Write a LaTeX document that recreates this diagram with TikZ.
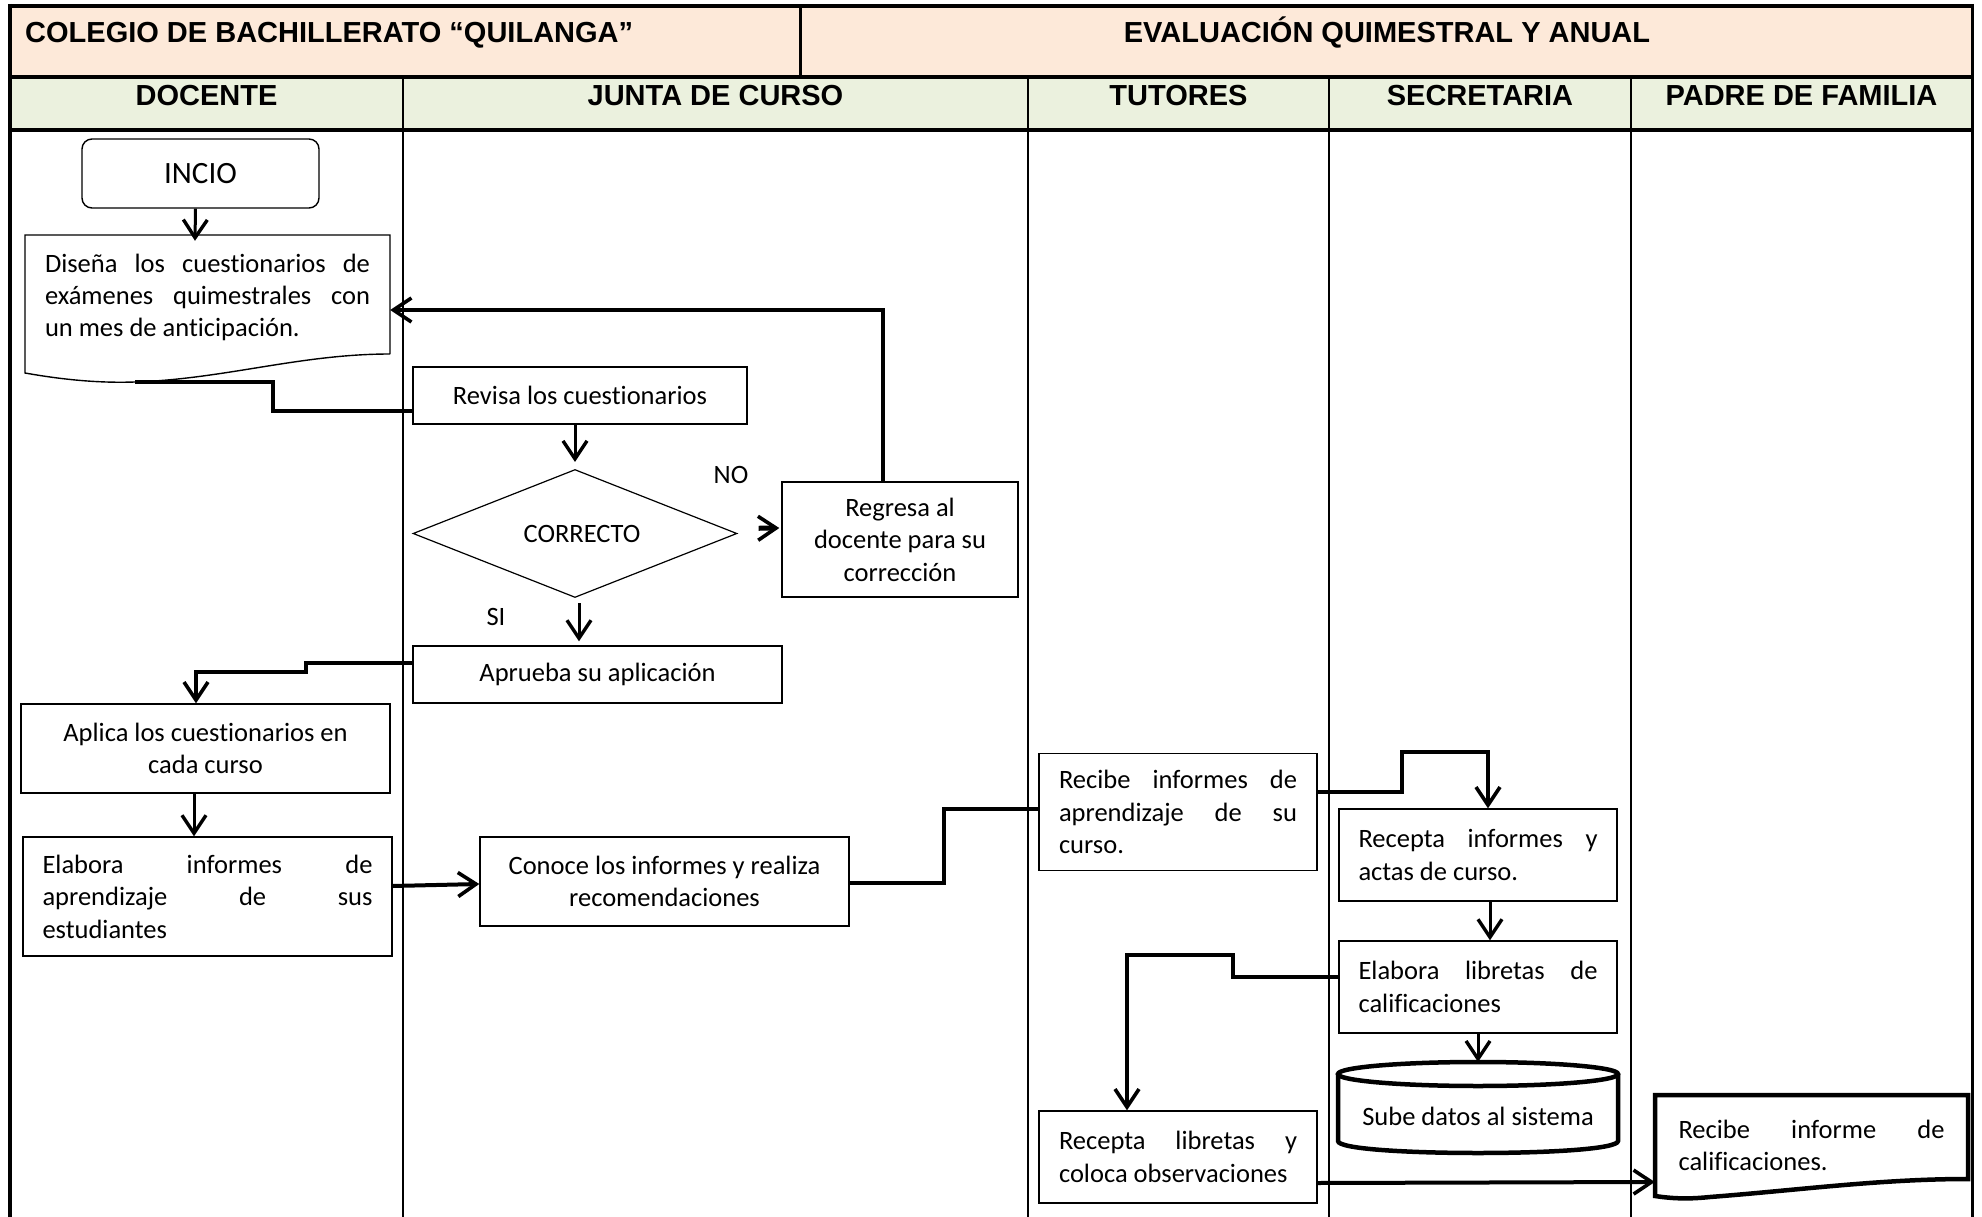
\documentclass[tikz,border=0pt]{standalone}
\usepackage{fontspec}
\usepackage{tikz}
\usetikzlibrary{shapes.geometric,arrows.meta,calc}
\setmainfont{Carlito}[Ligatures=NoCommon]
\newfontfamily\headfont{Liberation Sans}
\definecolor{peach}{RGB}{253,233,217}
\definecolor{sage}{RGB}{235,241,222}
\tikzstyle{box}=[rectangle,draw,line width=1.4pt,inner sep=0pt,font=\fontsize{26.5}{32.4}\selectfont]

\begin{document}
\begin{tikzpicture}[x=1pt,y=-1pt]

\tikzstyle{head}=[inner sep=0pt,anchor=base,font=\headfont\fontsize{29}{34}\selectfont\bfseries]
\tikzstyle{cbox}=[box,align=center]
\tikzstyle{jbox}=[box,align=justify]
\tikzstyle{docbox}=[rectangle,inner sep=0pt,align=justify,font=\fontsize{26.5}{32.4}\selectfont]
\tikzstyle{answer}=[inner sep=0pt,font=\fontsize{26.5}{32.4}\selectfont]
\tikzstyle{arrow}=[-{Straight Barb[length=18pt,width=24pt,line width=3.4pt]},line width=3pt]
\tikzstyle{thickarrow}=[-{Straight Barb[length=18pt,width=24pt,line width=3.6pt]},line width=4pt]
\tikzstyle{thickline}=[line width=4pt]

\useasboundingbox (0,0) rectangle (1982,1217);

% cabecera
\fill[peach] (10,6) rectangle (1972,77);
\fill[sage] (10,77) rectangle (1972,130);
\foreach \x in {403,1028,1329,1631}
  \draw[line width=1.6pt] (\x,77) -- (\x,1230);
\draw[line width=3pt] (800,6) -- (800,77);
\foreach \y in {6,77,130}
  \draw[line width=4pt] (8,\y) -- (1974,\y);
\draw[line width=4pt] (10,4) -- (10,1230);
\draw[line width=3pt] (1972,4) -- (1972,1230);

\node (colegio) [head,anchor=base west] at (25,43) {COLEGIO DE BACHILLERATO “QUILANGA”};
\node (evaluacion) [head] at (1387,43) {EVALUACIÓN QUIMESTRAL Y ANUAL};
\node (hdocente) [head] at (206.5,106) {DOCENTE};
\node (hjunta) [head] at (715.5,106) {JUNTA DE CURSO};
\node (htutores) [head] at (1178.5,106) {TUTORES};
\node (hsecretaria) [head] at (1480,106) {SECRETARIA};
\node (hpadre) [head] at (1801.5,106) {PADRE DE FAMILIA};

% docente
\node (incio) [box,rounded corners=10pt,minimum width=237pt,minimum height=69pt,
  font=\fontsize{31}{37}\selectfont] at (200.5,173.5) {INCIO};
\node (disena) [docbox,text width=325pt,minimum width=365pt,minimum height=119pt]
  at (207.5,297.5) {Diseña los cuestionarios de\linebreak exámenes quimestrales con\linebreak un mes de anticipación.};
\draw[line width=1.4pt] (390,354) -- (390,235) -- (25,235) -- (25,373)
  .. controls (70,381) and (105,383) .. (135,382)
  .. controls (225,379) and (300,354) .. (390,354);
\coordinate (dbot) at (135,382);
\node (aplica) [cbox,minimum width=369pt,minimum height=89pt] at (205.5,748.5)
  {Aplica los cuestionarios en\\ cada curso};
\node (elabora) [jbox,text width=330pt,minimum width=369pt,minimum height=119pt]
  at (207.5,896.5) {Elabora informes de\linebreak aprendizaje de sus\linebreak estudiantes};

% junta de curso
\node (revisa) [cbox,minimum width=334pt,minimum height=57pt] at (580,395.5) {Revisa los cuestionarios};
\node (correcto) [diamond,aspect=2.5,draw,line width=1.2pt,inner sep=0pt,minimum width=324pt,minimum height=128pt,
  font=\fontsize{26.5}{32.4}\selectfont] at (575,533.5) {\hspace*{14pt}CORRECTO};
\node (regresa) [cbox,minimum width=236pt,minimum height=115pt] at (900,539.5)
  {Regresa al\\ docente para su\\ corrección};
\node (no) [answer] at (731,475) {NO};
\node (si) [answer] at (496,617) {SI};
\node (aprueba) [cbox,minimum width=369pt,minimum height=57pt] at (597.5,674.5) {Aprueba su aplicación};
\node (conoce) [cbox,minimum width=369pt,minimum height=89pt] at (664.5,881.5)
  {Conoce los informes y realiza\\ recomendaciones};

% tutores
\node (recibe) [jbox,text width=238pt,minimum width=278pt,minimum height=117pt] at (1178,812)
  {Recibe informes de\linebreak aprendizaje de su\linebreak curso.};
\node (rlibretas) [jbox,text width=238pt,minimum width=278pt,minimum height=92pt] at (1178,1157)
  {Recepta libretas y\linebreak coloca observaciones};

% secretaria
\node (recepta) [jbox,text width=239pt,minimum width=278pt,minimum height=92pt] at (1478,855)
  {Recepta informes y\linebreak actas de curso.};
\node (libretas) [jbox,text width=239pt,minimum width=278pt,minimum height=92pt] at (1478,987)
  {Elabora libretas de\linebreak calificaciones};
\node (sube) [rectangle,inner sep=0pt,minimum width=280pt,minimum height=70pt,
  font=\fontsize{26.5}{32.4}\selectfont] at (1478,1116) {Sube datos al sistema};
\draw[line width=4.5pt] (1478,1074) ellipse [x radius=140, y radius=12];
\draw[line width=4.5pt] (1338,1074) -- (1338,1141)
  .. controls (1338,1157) and (1618,1157) .. (1618,1141) -- (1618,1074);
\coordinate (subetop) at (1478,1062);

% padre de familia
\node (padre) [docbox,text width=266pt,minimum width=313pt,minimum height=101pt] at (1811.5,1145.5)
  {Recibe informe de\linebreak calificaciones.};
\draw[line width=4.5pt] (1968,1179) -- (1968,1095) -- (1655,1095) -- (1655,1196)
  .. controls (1675,1199) and (1690,1199) .. (1710,1197)
  .. controls (1800,1190) and (1880,1179) .. (1968,1179) -- cycle;

% conectores
\draw[arrow] ($(incio.south)+(-5,0)$) -- ($(disena.north)+(-12.5,3)$);
\draw[thickline] (dbot) -- (273,382) -- (273,411) -- ($(revisa.west)+(0,15.5)$);
\draw[arrow,shorten >=7pt] (correcto.north |- revisa.south) -- (correcto.north);
\draw[thickarrow,line width=5pt,shorten <=21pt,shorten >=2pt] ($(correcto.east)+(0,-5)$) -- ($(regresa.west)+(0,-11.5)$);
\draw[thickarrow] ($(regresa.north)+(-17,0)$) |- ($(disena.east)+(0,12.5)$);
\draw[arrow,shorten <=5pt,shorten >=4pt] ($(correcto.south)+(4,0)$) -- ($(correcto.south |- aprueba.north)+(4,0)$);
\draw[thickarrow] ($(aprueba.west)+(0,-11.5)$) -- (306,663) -- (306,672) -- (196,672) -- ($(aplica.north)+(-9.5,0)$);
\draw[arrow] ($(aplica.south)+(-11.5,0)$) -- ($(elabora.north)+(-13.5,0)$);
\draw[thickarrow] ($(elabora.east)+(0,-10.5)$) -- ($(conoce.west)+(0,2.5)$);
\draw[thickline] ($(conoce.east)+(0,1.5)$) -| (944,809) -- ($(recibe.west)+(0,-3)$);
\draw[thickarrow] ($(recibe.east)+(0,-20)$) -| (1402,752) -| ($(recepta.north)+(10,0)$);
\draw[arrow] ($(recepta.south)+(12,0)$) -- ($(libretas.north)+(12,0)$);
\draw[thickarrow] ($(libretas.west)+(0,-10)$) -| (1233,955) -| ($(rlibretas.north)+(-51,0)$);
\draw[arrow] (libretas.south) -- (subetop);
\draw[thickarrow] ($(rlibretas.east)+(0,26)$) -- ($(padre.west)+(0,36.5)$);
\end{tikzpicture}
\end{document}
